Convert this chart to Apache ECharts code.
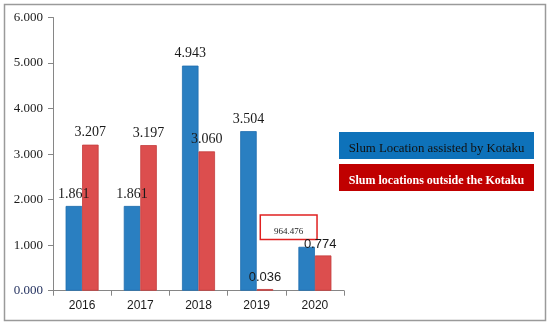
<!DOCTYPE html>
<html>
<head>
<meta charset="utf-8">
<script src="https://cdn.jsdelivr.net/npm/echarts@6/dist/echarts.min.js"></script>
<style>html,body{margin:0;padding:0;background:#fff}#c{width:550px;height:326px}</style>
</head>
<body>
<div id="c"></div>
<script>
const categories = ['2016', '2017', '2018', '2019', '2020'];
const blueName = 'Slum Location assisted by Kotaku';
const redName = 'Slum locations outside the Kotaku';
const blueValues = [1.861, 1.861, 4.943, 3.504, 0.964];
const redValues = [3.207, 3.197, 3.060, 0.036, 0.774];
const blueLabels = ['1.861', '1.861', '4.943', '3.504', '964.476'];
const redLabels = ['3.207', '3.197', '3.060', '0.036', '0.774'];
const yMin = 0, yMax = 6, yStep = 1;

const BLUE = '#2A7FC1', RED = '#DC4E4E';
const serif = '"Liberation Serif", "Times New Roman", serif';
const sans = '"Liberation Sans", Arial, sans-serif';

const chart = echarts.init(document.getElementById('c'), null, {renderer: 'canvas'});

const blueData = blueValues.map((v, i) => {
  if (i === 4) {
    return {
      value: v,
      label: {
        position: 'top', distance: 0, offset: [-18, -8],
        padding: [11, 13, 3, 13],
        borderColor: '#E02020', borderWidth: 1.5, backgroundColor: '#fff',
        fontSize: 9, fontFamily: serif, color: '#222'
      }
    };
  }
  return v;
});
const redData = redValues.map((v, i) => {
  if (i === 4) return {value: v, label: {offset: [-3, 0], fontFamily: sans, fontSize: 13}};
  if (i === 3) return {value: v, label: {fontFamily: sans, fontSize: 13}};
  return v;
});

chart.setOption({
  animation: false,
  backgroundColor: '#fff',
  graphic: [{
    type: 'rect', shape: {x: 4.5, y: 4.5, width: 541, height: 316},
    style: {fill: 'none', stroke: '#9a9a9a', lineWidth: 1.5}, silent: true
  }],
  grid: {left: 53, right: 206, top: 17.5, bottom: 35.3, containLabel: false},
  legend: {
    orient: 'vertical', left: 329, top: 127, itemGap: 5,
    icon: 'none', itemWidth: 0, itemHeight: 0,
    selectedMode: false,
    data: [blueName, redName],
    formatter: n => n === blueName ? '{b|' + n + '}' : '{r|' + n + '}',
    textStyle: {
      rich: {
        b: {backgroundColor: '#0E72BA', color: '#111', width: 195, height: 21, padding: [6, 0, 0, 0],
            align: 'center', fontFamily: serif, fontSize: 12.8, lineHeight: 21},
        r: {backgroundColor: '#C00000', color: '#fff', width: 195, height: 21, padding: [6, 0, 0, 0],
            align: 'center', fontFamily: serif, fontSize: 12, fontWeight: 'bold', lineHeight: 21}
      }
    }
  },
  xAxis: {
    type: 'category', data: categories,
    axisLine: {lineStyle: {color: '#868686', width: 1}},
    axisTick: {show: true, alignWithLabel: false, length: 5, lineStyle: {color: '#868686'}},
    axisLabel: {color: '#1a1a1a', fontFamily: sans, fontSize: 12, margin: 9}
  },
  yAxis: {
    type: 'value', min: yMin, max: yMax, interval: yStep,
    axisLine: {show: true, lineStyle: {color: '#868686', width: 1}},
    axisTick: {show: true, length: 5, lineStyle: {color: '#868686'}},
    splitLine: {show: false},
    axisLabel: {
      formatter: v => v.toFixed(3), margin: 10,
      fontFamily: serif, fontSize: 13,
      color: (v) => Number(v) === 0 ? '#1F2D5C' : '#1a1a1a'
    }
  },
  series: [
    {
      name: blueName, type: 'bar', data: blueData, barWidth: 16.5, barGap: '0%',
      itemStyle: {color: BLUE, borderColor: '#1F6FAE', borderWidth: 0.8},
      label: {show: true, position: 'top', distance: 5, fontFamily: serif, fontSize: 14, color: '#1a1a1a',
               formatter: p => blueLabels[p.dataIndex]}
    },
    {
      name: redName, type: 'bar', data: redData, barWidth: 16.5,
      itemStyle: {color: RED, borderColor: '#C43C3C', borderWidth: 0.8},
      label: {show: true, position: 'top', distance: 5, fontFamily: serif, fontSize: 14, color: '#1a1a1a',
               formatter: p => redLabels[p.dataIndex]}
    }
  ]
});
</script>
</body>
</html>
